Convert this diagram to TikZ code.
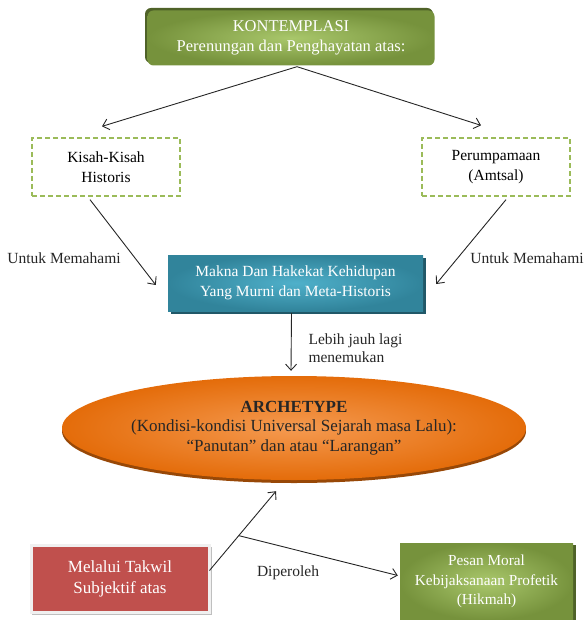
\documentclass[tikz,border=0pt]{standalone}
\usepackage{fontspec}
\setmainfont{Liberation Serif}
\usetikzlibrary{arrows.meta,shadows,shapes.geometric}

\definecolor{olivedark}{HTML}{76923C}
\definecolor{olivelight}{HTML}{A9C76B}
\definecolor{olivedeep}{HTML}{4F6228}
\definecolor{tealdark}{HTML}{31849B}
\definecolor{teallight}{HTML}{4FB0CA}
\definecolor{tealdeep}{HTML}{215868}
\definecolor{orangedark}{HTML}{E46C0A}
\definecolor{orangelight}{HTML}{F59A50}
\definecolor{orangedeep}{HTML}{984807}
\definecolor{redbox}{HTML}{C0504D}
\definecolor{dashgreen}{HTML}{9BBB59}

\tikzset{
  txt/.style={font=\fontsize{15.5}{19.5}\selectfont, align=center},
  arr/.style={draw=black!85, line width=0.9pt,
    -{Straight Barb[length=6pt,width=11pt,line width=0.9pt]}},
  lbl/.style={txt, text=black!85},
  dashbox/.style={txt, draw=dashgreen, line width=1.3pt,
    dash pattern=on 5pt off 3pt, minimum width=148pt, minimum height=58pt},
  greenbox/.style={txt, text=white, inner color=olivelight, outer color=olivedark},
}

\begin{document}
\begin{tikzpicture}[x=1pt,y=-1pt]
\useasboundingbox (0,0) rectangle (585,620);

% top heading box
\fill[olivedeep, rounded corners=6pt] (145,8) rectangle (433,63);
\node[greenbox, rounded corners=6pt, minimum width=287pt, minimum height=55pt,
      font=\fontsize{16.5}{20}\selectfont]
  (top) at (291,38) {KONTEMPLASI\\Perenungan dan Penghayatan atas:};

% the two sources
\node[dashbox] (kisah) at (106,167) {Kisah-Kisah\\Historis};
\node[dashbox] (perum) at (496,167) {Perumpamaan\\(Amtsal)};

% meaning box
\fill[tealdeep] (171,258) rectangle (426,314);
\node[txt, text=white, inner color=teallight, outer color=tealdark,
      minimum width=255pt, minimum height=56pt]
  (makna) at (295.5,283) {Makna Dan Hakekat Kehidupan\\Yang Murni dan Meta-Historis};

% archetype ellipse
\fill[orangedeep] (294,431) ellipse [x radius=232, y radius=52];
\node[ellipse, txt, text=black!85, inner color=orangelight, outer color=orangedark,
      minimum width=464pt, minimum height=104pt, inner sep=0pt,
      font=\fontsize{17}{19.5}\selectfont]
  (arch) at (294,428)
  {\textbf{ARCHETYPE}\\(Kondisi-kondisi Universal Sejarah masa Lalu):\\``Panutan'' dan atau ``Larangan''};

% interpretation box
\fill[black!25] (32,547) rectangle (212,615);
\node[txt, text=white, fill=redbox, draw=black!6, line width=3pt,
      minimum width=178pt, minimum height=67pt,
      font=\fontsize{17}{21}\selectfont]
  (takwil) at (120,578.5) {Melalui Takwil\\Subjektif atas};

% result box
\fill[olivedeep] (402,545) rectangle (576,622);
\node[greenbox, font=\fontsize{15.3}{19.5}\selectfont,
      minimum width=173pt, minimum height=77pt]
  (pesan) at (486.5,581.5) {Pesan Moral\\Kebijaksanaan Profetik\\(Hikmah)};

% connectors
\coordinate (apex) at ([xshift=6pt,yshift=-1pt]top.south);
\draw[arr] (apex) -- ([xshift=-4pt,yshift=11pt]kisah.north);
\draw[arr] (apex) -- ([xshift=-15pt,yshift=12pt]perum.north);
\draw[arr] ([xshift=-16pt,yshift=-3pt]kisah.south) -- ([xshift=-12pt,yshift=-2pt]makna.west);
\draw[arr] ([xshift=10pt,yshift=-3pt]perum.south) -- ([xshift=13pt,yshift=-1pt]makna.east);
\draw[arr] ([xshift=-4pt,yshift=-2pt]makna.south) -- ([xshift=-3pt,yshift=5pt]arch.north);

\coordinate (tip) at ([xshift=-18pt,yshift=-11pt]arch.south);
\draw[arr] ([xshift=-1pt,yshift=8pt]takwil.east) -- (tip)
  coordinate[pos=0.44] (branch);
\draw[arr] (branch) -- ([xshift=-2pt,yshift=6pt]pesan.west);

% connector labels
\node[lbl] (l1) at (64,258) {Untuk Memahami};
\node[lbl] (l2) at (527,258) {Untuk Memahami};
\node[lbl, align=left, anchor=north west, font=\fontsize{15.5}{18}\selectfont]
  (l3) at (305,330) {Lebih jauh lagi\\menemukan};
\node[lbl] (l4) at (288,573) {Diperoleh};

\end{tikzpicture}
\end{document}
